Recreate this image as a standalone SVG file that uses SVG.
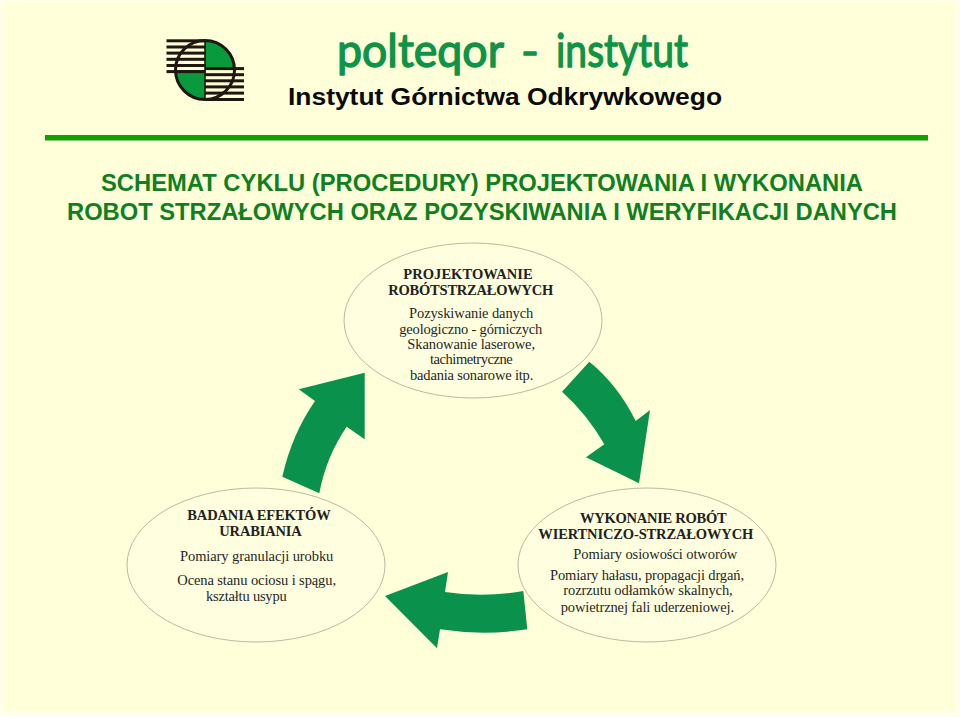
<svg xmlns="http://www.w3.org/2000/svg" width="960" height="717" viewBox="0 0 960 717">
<style>
text{font-family:"Liberation Serif","Times New Roman",serif;font-size:14.5px;fill:#26261f}
.h{font-weight:bold;font-size:14.5px;fill:#222}
.s{font-family:"Liberation Sans",Arial,sans-serif;font-weight:bold;font-size:23.3px;fill:#0f7f1f}
.e{fill:#ffffdf;stroke:#bcb9a0;stroke-width:1}
.a{fill:#0a914b}
.st{fill:#1f1710}
</style>
<rect width="960" height="717" fill="#ffffec"/>
<rect x="4" y="2" width="951" height="710" fill="#ffffd9"/>
<g id="logo">
<path d="M205 70V40.5A29.5 29.5 0 0 1 234.500 70Z" fill="#089a3c"/>
<path d="M205 70V99.500A29.500 29.500 0 0 1 175.500 70Z" fill="#089a3c"/>
<g class="st">
<rect x="166.500" y="39.300" width="39" height="3"/><rect x="166.500" y="45.500" width="39" height="3"/><rect x="166.500" y="51.600" width="39" height="3"/><rect x="166.500" y="57.800" width="39" height="3"/><rect x="166.500" y="64" width="39" height="3"/><rect x="166.500" y="70.100" width="39" height="3"/>
<rect x="205" y="67.100" width="39" height="3"/><rect x="205" y="73.200" width="39" height="3"/><rect x="205" y="79.300" width="39" height="3"/><rect x="205" y="85.400" width="39" height="3"/><rect x="205" y="91.600" width="39" height="3"/><rect x="205" y="98" width="39" height="3"/>
<rect x="204.200" y="40" width="1.600" height="60"/>
</g>
<circle cx="205" cy="70" r="29.500" fill="none" stroke="#1f1710" stroke-width="3"/>
</g>
<g id="brand">
<text y="67" style="font-family:Lato,'Open Sans',sans-serif;font-size:47px;font-weight:normal;fill:#0d9447;stroke:#0d9447;stroke-width:1.400;stroke-linejoin:round"><tspan x="337" textLength="166" lengthAdjust="spacingAndGlyphs">polteqor</tspan> <tspan x="521" textLength="18" lengthAdjust="spacingAndGlyphs">–</tspan> <tspan x="556" textLength="132" lengthAdjust="spacingAndGlyphs">instytut</tspan></text>
<text x="288" y="105" textLength="434" lengthAdjust="spacingAndGlyphs" style="font-family:'Liberation Sans',Arial,sans-serif;font-weight:bold;font-size:24.700px;fill:#0a0a0a">Instytut Górnictwa Odkrywkowego</text>
<rect x="45" y="135" width="883" height="5.500" fill="#10a004"/>
</g>
<g id="title">
<text class="s" x="101" y="191" textLength="762" lengthAdjust="spacingAndGlyphs">SCHEMAT CYKLU (PROCEDURY) PROJEKTOWANIA I WYKONANIA</text>
<text class="s" x="67" y="220" textLength="830" lengthAdjust="spacingAndGlyphs">ROBOT STRZAŁOWYCH ORAZ POZYSKIWANIA I WERYFIKACJI DANYCH</text>
</g>
<g id="connectors">
<path class="a" d="M589.300 361.700L562 391.700Q587 414 604.300 444.300L586 457.300L639 483.300L650 410L635.700 421Q618 385 589.300 361.700Z"/>
<path class="a" d="M282.300 476.700L319.300 493.300Q326 457 346.700 426.700L364.700 439.300V372.700L298.700 389.300L315 401Q292 434 282.300 476.700Z"/>
<path class="a" d="M523.300 591L527.300 629.300Q484 636 440 629.300L437 648.300L385 596L448 572L445 592Q484 598 523.300 591Z"/>
</g>
<g id="node-projektowanie">
<ellipse class="e" cx="473" cy="320.500" rx="129" ry="77.500"/>
<text class="h" x="403.300" y="279" textLength="129.400">PROJEKTOWANIE</text>
<text class="h" x="388.300" y="295" textLength="165">ROBÓTSTRZAŁOWYCH</text>
<text x="409" y="318" textLength="124.300">Pozyskiwanie danych</text>
<text x="399.300" y="334" textLength="143">geologiczno - górniczych</text>
<text x="407.300" y="349" textLength="127.700">Skanowanie laserowe,</text>
<text x="430" y="364" textLength="82.700">tachimetryczne</text>
<text x="410" y="379.500" textLength="123.300">badania sonarowe itp.</text>
</g>
<g id="node-badania">
<ellipse class="e" cx="256" cy="565" rx="129" ry="77"/>
<text class="h" x="187.300" y="520" textLength="143.400">BADANIA EFEKTÓW</text>
<text class="h" x="219.300" y="536" textLength="82.400">URABIANIA</text>
<text x="180" y="560.500" textLength="153.300">Pomiary granulacji urobku</text>
<text x="177.300" y="585" textLength="158.700">Ocena stanu ociosu i spągu,</text>
<text x="206" y="600.500" textLength="80.700">kształtu usypu</text>
</g>
<g id="node-wykonanie">
<ellipse class="e" cx="647" cy="565" rx="129" ry="77"/>
<text class="h" x="580" y="522.500" textLength="146.700">WYKONANIE ROBÓT</text>
<text class="h" x="538.300" y="538.500" textLength="215">WIERTNICZO-STRZAŁOWYCH</text>
<text x="573.300" y="558.500" textLength="164">Pomiary osiowości otworów</text>
<text x="550" y="579.500" textLength="194">Pomiary hałasu, propagacji drgań,</text>
<text x="563.300" y="595" textLength="169.400">rozrzutu odłamków skalnych,</text>
<text x="560.700" y="611.500" textLength="173.300">powietrznej fali uderzeniowej.</text>
</g>
</svg>
